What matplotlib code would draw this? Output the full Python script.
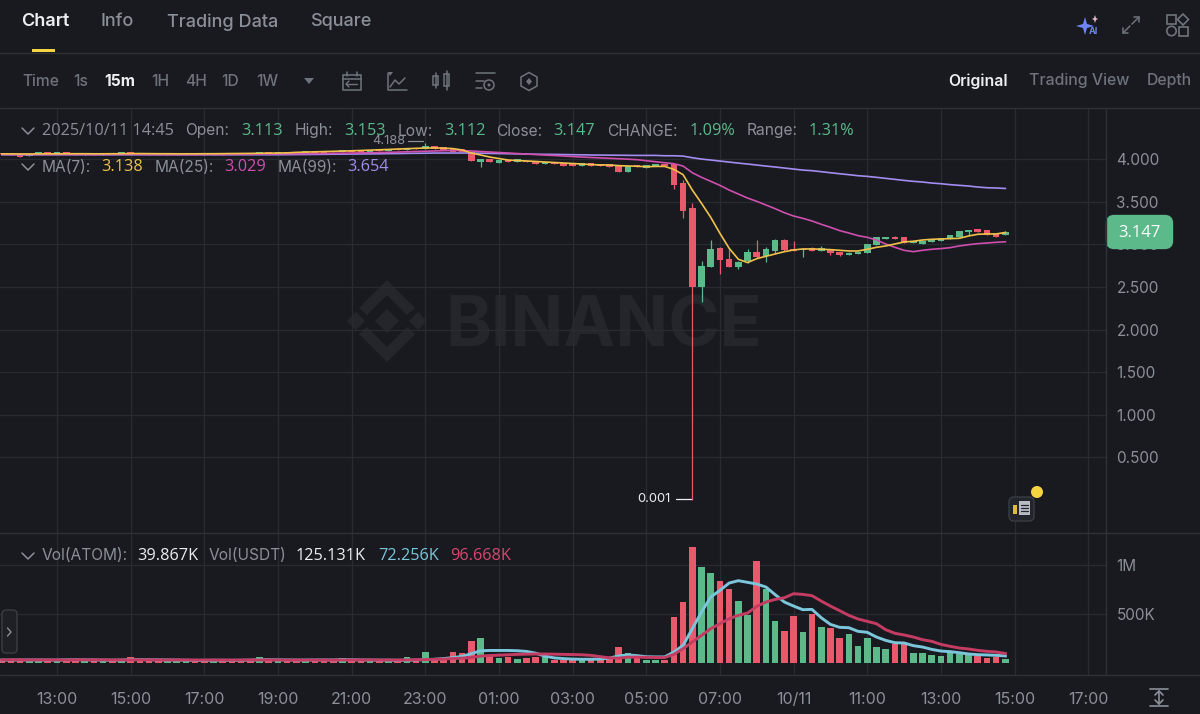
import numpy as np
import matplotlib
matplotlib.use("Agg")
import matplotlib.pyplot as plt
from matplotlib.patches import Polygon, Rectangle, FancyBboxPatch, Circle

plt.rcParams['font.family'] = ['Inter', 'DejaVu Sans']

# ---------- data: 15-minute candles, first one 11:30, last one 14:45 next day ----------
first_hour = -1.5   # hours relative to 13:00 of the first day
opens = [4.070,4.068,4.058,4.035,4.055,4.082,4.056,4.082,4.072,4.050,
         4.068,4.050,4.066,4.054,4.082,4.076,4.068,4.066,4.050,4.050,
         4.050,4.070,4.068,4.050,4.068,4.068,4.070,4.072,4.058,4.080,
         4.060,4.080,4.082,4.068,4.090,4.092,4.094,4.078,4.098,4.100,
         4.086,4.108,4.092,4.116,4.100,4.130,4.112,4.148,4.140,4.117,
         4.113,4.078,3.968,4.000,3.957,3.988,3.968,3.980,3.968,3.945,
         3.968,3.953,3.953,3.922,3.949,3.941,3.937,3.918,3.851,3.930,
         3.890,3.917,3.941,3.941,3.714,3.429,2.503,2.738,2.960,2.824,
         2.730,2.808,2.909,2.866,2.921,3.050,2.945,2.933,2.956,2.917,
         2.941,2.913,2.874,2.882,2.894,2.995,3.062,3.089,3.089,3.011,
         3.007,3.023,3.042,3.062,3.089,3.140,3.175,3.171,3.120,3.113]
closes = [4.053,4.050,4.029,4.056,4.085,4.058,4.082,4.060,4.052,4.068,
          4.050,4.066,4.054,4.082,4.056,4.054,4.052,4.052,4.064,4.064,
          4.066,4.052,4.052,4.066,4.052,4.054,4.056,4.058,4.084,4.060,
          4.078,4.066,4.068,4.092,4.072,4.076,4.078,4.100,4.082,4.086,
          4.106,4.092,4.118,4.100,4.130,4.112,4.150,4.120,4.110,4.086,
          4.078,3.977,4.000,3.961,3.992,3.965,3.996,3.961,3.945,3.968,
          3.941,3.922,3.918,3.949,3.922,3.918,3.910,3.851,3.918,3.906,
          3.929,3.941,3.917,3.695,3.394,2.503,2.749,2.945,2.816,2.738,
          2.796,2.909,2.851,2.945,3.050,2.933,2.917,2.949,2.917,2.952,
          2.894,2.878,2.902,2.909,3.003,3.081,3.089,3.062,3.019,3.034,
          3.038,3.050,3.077,3.105,3.159,3.171,3.140,3.113,3.089,3.147]
# wicks that stick out of the body (candle index -> price)
wick_high = {46:4.188, 74:3.753, 75:3.488, 76:2.808, 77:3.050, 78:2.972, 79:2.941,
             80:2.808, 81:2.945, 82:3.050, 83:2.972, 84:3.062, 85:3.058, 86:3.038,
             88:2.964, 89:2.980, 92:2.913, 97:3.101, 109:3.153}
wick_low = {52:3.906, 73:3.644, 74:3.304, 75:0.001, 76:2.327, 78:2.652, 80:2.706,
            81:2.785, 82:2.843, 83:2.796, 84:2.902, 85:2.925, 87:2.855, 90:2.878,
            91:2.867, 105:3.113, 109:3.112}

ma7 = [4.060,4.060,4.059,4.059,4.060,4.061,4.061,4.062,4.062,4.062,
       4.061,4.061,4.062,4.062,4.063,4.064,4.063,4.062,4.062,4.061,
       4.061,4.061,4.062,4.062,4.063,4.064,4.065,4.066,4.067,4.069,
       4.070,4.072,4.078,4.081,4.084,4.087,4.090,4.093,4.096,4.100,
       4.104,4.108,4.112,4.117,4.121,4.125,4.129,4.130,4.127,4.122,
       4.106,4.070,4.047,4.023,4.005,3.988,3.982,3.977,3.971,3.965,
       3.959,3.953,3.947,3.941,3.935,3.930,3.930,3.922,3.918,3.915,
       3.909,3.913,3.913,3.878,3.816,3.636,3.480,3.316,3.128,2.953,
       2.824,2.785,2.831,2.859,2.886,2.913,2.933,2.945,2.945,2.941,
       2.937,2.929,2.921,2.921,2.941,2.964,2.980,3.003,3.027,3.035,
       3.050,3.058,3.062,3.066,3.070,3.097,3.117,3.121,3.121,3.138]
ma25 = [4.053,4.053,4.052,4.052,4.053,4.053,4.053,4.054,4.054,4.053,
        4.053,4.053,4.053,4.054,4.054,4.054,4.053,4.053,4.052,4.052,
        4.052,4.053,4.053,4.053,4.053,4.054,4.055,4.056,4.057,4.058,
        4.059,4.060,4.061,4.063,4.064,4.065,4.067,4.068,4.070,4.072,
        4.074,4.076,4.078,4.081,4.085,4.088,4.091,4.094,4.098,4.100,
        4.098,4.094,4.088,4.082,4.076,4.070,4.064,4.058,4.052,4.046,
        4.041,4.035,4.029,4.023,4.018,4.013,4.008,4.003,3.998,3.992,
        3.980,3.968,3.956,3.945,3.917,3.839,3.785,3.738,3.691,3.636,
        3.589,3.542,3.503,3.460,3.417,3.370,3.331,3.304,3.273,3.234,
        3.199,3.160,3.132,3.101,3.081,3.050,3.003,2.964,2.929,2.913,
        2.929,2.941,2.949,2.960,2.980,2.995,3.007,3.015,3.023,3.029]
ma99 = [4.050,4.050,4.050,4.050,4.050,4.050,4.050,4.050,4.050,4.050,
        4.050,4.050,4.050,4.050,4.050,4.050,4.050,4.050,4.050,4.050,
        4.050,4.050,4.050,4.050,4.050,4.050,4.050,4.050,4.050,4.050,
        4.050,4.051,4.052,4.053,4.054,4.055,4.056,4.057,4.058,4.059,
        4.060,4.061,4.063,4.064,4.066,4.067,4.068,4.070,4.070,4.070,
        4.070,4.070,4.068,4.066,4.064,4.062,4.060,4.058,4.056,4.055,
        4.054,4.052,4.050,4.049,4.047,4.046,4.045,4.044,4.043,4.042,
        4.042,4.042,4.038,4.038,4.034,4.015,3.999,3.988,3.976,3.964,
        3.952,3.941,3.929,3.917,3.906,3.894,3.882,3.870,3.863,3.851,
        3.839,3.827,3.816,3.804,3.796,3.785,3.773,3.761,3.749,3.738,
        3.730,3.718,3.710,3.699,3.691,3.683,3.671,3.663,3.660,3.654]

volume_k = [28,30,32,26,34,28,24,38,44,26,30,24,28,30,58,30,26,24,22,24,
            22,28,26,24,30,28,26,30,58,28,26,24,24,26,30,32,26,56,28,24,
            26,28,30,32,58,30,109,41,41,109,99,228,252,82,54,64,41,48,57,60,
            31,31,41,48,41,31,48,167,99,65,34,34,27,469,619,1183,979,921,840,755,
            636,486,1037,758,432,330,476,316,503,371,354,255,292,170,258,160,143,190,214,99,
            102,82,75,112,95,78,68,51,61,40]
vol_ma_blue_k = [30,30,31,31,31,30,30,32,33,32,31,30,29,30,34,34,33,32,31,30,
                 28,27,27,28,28,27,28,29,33,33,32,31,30,30,31,31,31,34,33,31,
                 30,29,29,28,28,30,35,38,45,55,68,95,125,128,128,128,125,118,100,70,
                 52,45,40,38,38,40,50,72,82,75,64,62,62,112,180,350,520,673,741,816,
                 840,823,806,775,697,622,581,544,547,462,394,364,360,323,313,265,231,207,204,177,
                 163,139,122,116,105,92,85,82,78,72]
vol_ma_red_k = [32,32,32,31,31,31,31,31,32,32,32,32,31,31,32,32,32,31,31,31,
                31,30,30,30,30,30,30,31,31,31,31,30,30,30,30,30,30,31,31,31,
                31,30,30,30,31,33,35,37,40,45,50,55,70,76,80,84,88,90,92,92,
                90,88,86,84,78,65,52,50,60,60,58,57,55,88,146,214,282,350,401,452,
                486,510,578,622,649,666,707,700,687,632,581,534,486,449,425,401,340,303,286,265,
                238,221,190,170,153,143,129,119,112,97]

price_ticks = [0.5, 1.0, 1.5, 2.0, 2.5, 3.0, 3.5, 4.0]
volume_ticks = [500, 1000]
volume_tick_labels = ['500K', '1M']
time_ticks = list(range(0, 30, 2))
time_tick_labels = ['13:00','15:00','17:00','19:00','21:00','23:00','01:00','03:00',
                    '05:00','07:00','10/11','11:00','13:00','15:00','17:00']

# ---------- colours ----------
BG = '#181a20'; GRID = '#282b31'; SEP = '#2e3138'
GREEN = '#5cb98a'; RED = '#e8596b'
TXT = '#8b8f97'; DIM = '#6f737b'; WHITE = '#eceef0'
C7 = '#f0c24a'; C25 = '#cf4fae'; C99 = '#a48cf0'
BLUE = '#7cc6dc'; CRIM = '#c53c63'
NUMFONT = ['Open Sans', 'DejaVu Sans']

opens = np.array(opens); closes = np.array(closes)
t = first_hour + 0.25 * np.arange(len(opens))
up = closes >= opens
cols = [GREEN if u else RED for u in up]
tops = np.maximum(opens, closes); bots = np.minimum(opens, closes)
highs = tops.copy(); lows = bots.copy()
for k, v in wick_high.items():
    highs[k] = v
for k, v in wick_low.items():
    lows[k] = v

W, H = 1200, 714
fig = plt.figure(figsize=(12, 7.14), dpi=100, facecolor=BG)

def pane(x0, y0, x1, y1, z):
    return fig.add_axes([x0 / W, 1 - y1 / H, (x1 - x0) / W, (y1 - y0) / H], zorder=z)

# underlay for the watermark
under = pane(0, 0, W, H, 0); under.set_xlim(0, W); under.set_ylim(H, 0); under.axis('off')
# UI overlay
ui = pane(0, 0, W, H, 5); ui.set_xlim(0, W); ui.set_ylim(H, 0); ui.axis('off'); ui.patch.set_alpha(0)

HOUR_PX = 36.83; X0 = 57.0
xlim = (-X0 / HOUR_PX, (1106 - X0) / HOUR_PX)
bw = 6.6 / HOUR_PX

# ---------- price pane ----------
ax = pane(0, 108, 1106, 533, 2)
ax.patch.set_alpha(0)
ax.set_xlim(*xlim)
ax.set_ylim((500 - 533) / 85.25, (500 - 108) / 85.25)
ax.vlines(t, lows, highs, color=cols, lw=0.9, zorder=3)
ax.bar(t, tops - bots, bottom=bots, width=bw, color=cols, zorder=3, linewidth=0)
ax.plot(t, ma99, color=C99, lw=1.2, zorder=4)
ax.plot(t, ma25, color=C25, lw=1.2, zorder=4)
ax.plot(t, ma7, color=C7, lw=1.2, zorder=5)
ax.set_yticks(price_ticks); ax.set_yticklabels([f'{p:.3f}' for p in price_ticks])
ax.yaxis.tick_right()
ax.set_xticks(time_ticks); ax.set_xticklabels([])
ax.tick_params(axis='both', length=0)
ax.tick_params(axis='y', labelsize=11, labelcolor=TXT, pad=7.5)
ax.grid(True, color=GRID, lw=0.9); ax.set_axisbelow(True)
for s in ax.spines.values():
    s.set_visible(False)

# ---------- volume pane ----------
av = pane(0, 534, 1106, 675, 2)
av.patch.set_alpha(0)
av.set_xlim(*xlim)
av.set_ylim((663 - 675) / 0.098, (663 - 534) / 0.098)
av.bar(t, volume_k, width=bw, color=cols, linewidth=0, zorder=3)
av.plot(t, vol_ma_blue_k, color=BLUE, lw=2.1, zorder=4)
av.plot(t, vol_ma_red_k, color=CRIM, lw=2.1, zorder=5)
av.set_yticks(volume_ticks); av.set_yticklabels(volume_tick_labels)
av.yaxis.tick_right()
av.set_xticks(time_ticks); av.set_xticklabels(time_tick_labels)
av.tick_params(axis='both', length=0)
av.tick_params(axis='y', labelsize=11, labelcolor=TXT, pad=7.5)
av.tick_params(axis='x', labelsize=11.5, labelcolor=TXT, pad=12.5)
av.grid(True, color=GRID, lw=0.9); av.set_axisbelow(True)
for s in av.spines.values():
    s.set_visible(False)

# ---------- helpers ----------
def T(x, y, s, c=TXT, size=11.2, w='normal', ha='left', fam=None):
    kw = {'family': fam} if fam else {}
    ui.text(x, y + 1, s, color=c, fontsize=size, fontweight=w, ha=ha, va='center', **kw)

def N(x, y, s, c):
    T(x, y, s, c, size=11.7, fam=NUMFONT)

def L(xs, ys, c=DIM, lw=1.1, a=ui):
    a.plot(xs, ys, color=c, lw=lw, solid_capstyle='round', solid_joinstyle='round')

def chevron(x, y):
    L([x - 6, x, x + 6], [y - 3, y + 3, y - 3], c=TXT, lw=1.1)

# separators
for yy in (53, 108, 533, 675):
    L([0, W], [yy, yy], c=SEP, lw=1.0)
L([1106, 1106], [108, 675], c=SEP, lw=1.0)

# tabs
T(21, 21, 'Chart', WHITE, 13, 'semibold')
T(101, 21, 'Info', TXT, 13, 'medium')
T(167, 21, 'Trading Data', TXT, 13, 'medium')
T(310, 21, 'Square', TXT, 13, 'medium')
ui.add_patch(Rectangle((32, 49), 23, 3, color='#f5d442', lw=0))

# toolbar
T(22, 80, 'Time', DIM, 11.2, 'medium')
T(73, 80, '1s', DIM, 11.2, 'medium')
T(104, 80, '15m', WHITE, 11.2, 'bold')
T(151, 80, '1H', DIM, 11.2, 'medium')
T(185, 80, '4H', DIM, 11.2, 'medium')
T(221, 80, '1D', DIM, 11.2, 'medium')
T(256, 80, '1W', DIM, 11.2, 'medium')
ui.add_patch(Polygon([[304, 78], [314, 78], [309, 84]], color=DIM, lw=0))
T(948, 80, 'Original', WHITE, 11.4, 'semibold')
T(1029, 80, 'Trading View', DIM, 11.4, 'medium')
T(1147, 80, 'Depth', DIM, 11.4, 'medium')

# toolbar icons
ui.add_patch(Rectangle((343, 75), 18, 15, fill=False, ec=DIM, lw=1.1))
L([343, 361], [79, 79]); L([347, 347], [72, 76]); L([357, 357], [72, 76])
L([346, 357], [84, 84], lw=1); L([349, 346, 349], [81, 84, 87], lw=1)
L([388, 388, 407], [73, 90, 90]); L([390, 395, 399, 405], [87, 80, 84, 78])
ui.add_patch(Polygon([[388, 72], [393, 72], [390, 76]], color=DIM, lw=0))
ui.add_patch(Rectangle((433, 76), 5, 9, fill=False, ec=DIM, lw=1.1))
ui.add_patch(Rectangle((444, 74), 5, 12, fill=False, ec=DIM, lw=1.1))
L([435.5, 435.5], [73, 88]); L([446.5, 446.5], [71, 90])
L([476, 495], [73, 73]); L([476, 484], [81, 81]); L([476, 482], [88, 88])
ui.add_patch(Circle((489, 85), 5, fill=False, ec=DIM, lw=1.1)); ui.add_patch(Circle((489, 85), 1.5, color=DIM, lw=0))
ui.add_patch(Polygon([[529, 72.5], [537, 77], [537, 86], [529, 90.5], [521, 86], [521, 77]], fill=False, ec=DIM, lw=1.1))
ui.add_patch(Polygon([[529, 78], [532, 81.5], [529, 85], [526, 81.5]], color=DIM, lw=0))

# top right icons
ui.add_patch(Polygon([[1076, 26], [1083, 24], [1085, 17], [1087, 24], [1094, 26], [1087, 28], [1085, 35], [1083, 28]],
                     color='#6e86f5', lw=0))
ui.add_patch(Polygon([[1092, 19], [1094, 18], [1095, 15], [1096, 18], [1098, 19], [1096, 20], [1095, 23], [1094, 20]],
                     color='#e8b6c8', lw=0))
ui.text(1093, 31.5, 'AI', color='#6e86f5', fontsize=6.5, fontweight='bold', ha='center', va='center')
L([1123, 1130], [33, 26]); L([1132, 1139], [24, 17]); L([1123, 1123, 1128], [28, 33, 33]); L([1134, 1139, 1139], [17, 17, 22])
ui.add_patch(Rectangle((1167, 15), 9, 9, fill=False, ec=DIM, lw=1.2))
ui.add_patch(Polygon([[1183, 14], [1188.5, 19.5], [1183, 25], [1177.5, 19.5]], fill=False, ec=DIM, lw=1.2))
ui.add_patch(Circle((1171.5, 31), 4.7, fill=False, ec=DIM, lw=1.2))
ui.add_patch(Rectangle((1179, 27), 9, 8.5, fill=False, ec=DIM, lw=1.2))

# info rows
chevron(28, 131); chevron(28, 167)
N(42, 130, '2025/10/11 14:45', TXT)
for x, s in [(185, 'Open:'), (295, 'High:'), (398, 'Low:'), (496, 'Close:'), (607, 'CHANGE:'), (747, 'Range:')]:
    T(x, 130, s, TXT)
for x, s in [(241, '3.113'), (344, '3.153'), (444, '3.112'), (553, '3.147'), (690, '1.09%'), (809, '1.31%')]:
    N(x, 130, s, GREEN)
for x, s in [(42, 'MA(7):'), (155, 'MA(25):'), (278, 'MA(99):')]:
    T(x, 166, s, TXT)
for x, s, c in [(101, '3.138', C7), (224, '3.029', C25), (347, '3.654', C99)]:
    N(x, 166, s, c)
chevron(28, 556)
for x, s in [(42, 'Vol(ATOM):'), (209, 'Vol(USDT)')]:
    T(x, 555, s, TXT)
for x, s, c in [(137, '39.867K', WHITE), (296, '125.131K', WHITE), (378, '72.256K', BLUE), (450, '96.668K', '#d8476e')]:
    N(x, 555, s, c)

# extremes
T(372, 140, '4.188', TXT, 9.3)
L([408, 423], [141, 141], c=TXT, lw=0.9)
T(637, 498, '0.001', WHITE, 9.3)
L([676, 691], [499, 499], c=WHITE, lw=0.9)

# last price tag
ui.add_patch(FancyBboxPatch((1110, 219), 59, 26, boxstyle='round,pad=0,rounding_size=4', mutation_aspect=1,
                            fc=GREEN, ec=GREEN, lw=6))
T(1139.5, 232, '3.147', '#ffffff', 12, 'medium', 'center', NUMFONT)

# note icon
ui.add_patch(FancyBboxPatch((1009, 497), 25, 24, boxstyle='round,pad=0,rounding_size=5', fc='#22252b', ec='#3a3d44', lw=1))
ui.add_patch(Rectangle((1019, 501), 11, 14, fc='#b8bbc1', lw=0))
for yy in (505, 508, 511):
    L([1021, 1028], [yy, yy], c='#22252b', lw=0.9)
ui.add_patch(Rectangle((1013, 505), 4, 9, fc='#e2b93b', lw=0))
ui.add_patch(Circle((1037, 492), 6, color='#f5d442', lw=0))

# left collapse tab
ui.add_patch(FancyBboxPatch((2, 610), 15, 43, boxstyle='round,pad=0,rounding_size=4', fc='#1e2026', ec='#3a3d44', lw=1))
L([7.5, 11, 7.5], [628, 632, 636], c=TXT, lw=1)

# bottom right icon
L([1150, 1168], [689, 689], c=TXT, lw=1.2); L([1150, 1168], [706, 706], c=TXT, lw=1.2)
L([1159, 1159], [691, 704], c=TXT, lw=1.2)
L([1155, 1159, 1163], [695, 691, 695], c=TXT, lw=1.2); L([1155, 1159, 1163], [700, 704, 700], c=TXT, lw=1.2)

# watermark
WM = '#24262c'
cx, cy = 387, 321
for dx, dy, r in [(0, 0, 12), (-31, 0, 9), (31, 0, 9)]:
    under.add_patch(Polygon([[cx + dx, cy + dy - r], [cx + dx + r, cy + dy], [cx + dx, cy + dy + r], [cx + dx - r, cy + dy]], color=WM, lw=0))
under.add_patch(Polygon([[cx, cy - 41], [cx + 28, cy - 13], [cx + 20, cy - 6], [cx, cy - 26], [cx - 20, cy - 6], [cx - 28, cy - 13]], color=WM, lw=0))
under.add_patch(Polygon([[cx, cy + 41], [cx + 28, cy + 13], [cx + 20, cy + 6], [cx, cy + 26], [cx - 20, cy + 6], [cx - 28, cy + 13]], color=WM, lw=0))
under.text(445, 328, 'BINANCE', color=WM, fontsize=50, fontweight='bold', ha='left', va='center')

fig.savefig('out.png', dpi=100, facecolor=BG)
